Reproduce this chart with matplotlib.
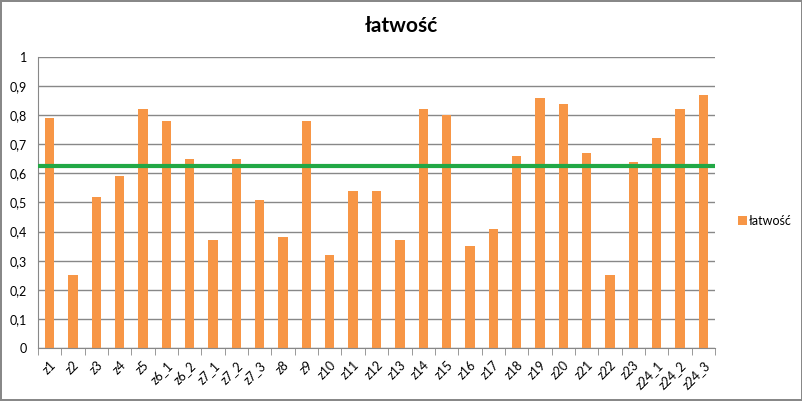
import numpy as np
import matplotlib
matplotlib.use('Agg')
import matplotlib.pyplot as plt

labels = ['z1', 'z2', 'z3', 'z4', 'z5', 'z6_1', 'z6_2', 'z7_1', 'z7_2', 'z7_3',
          'z8', 'z9', 'z10', 'z11', 'z12', 'z13', 'z14', 'z15', 'z16', 'z17',
          'z18', 'z19', 'z20', 'z21', 'z22', 'z23', 'z24_1', 'z24_2', 'z24_3']
latwosc = [0.79, 0.25, 0.52, 0.59, 0.82, 0.78, 0.65, 0.37, 0.65, 0.51,
           0.38, 0.78, 0.32, 0.54, 0.54, 0.37, 0.82, 0.80, 0.35, 0.41,
           0.66, 0.86, 0.84, 0.67, 0.25, 0.64, 0.72, 0.82, 0.87]
threshold = 0.625

plt.rcParams['font.family'] = ['Lato', 'DejaVu Sans']

fig = plt.figure(figsize=(8.03, 4.01), dpi=100)
fig.patch.set_edgecolor('#888888')
fig.patch.set_linewidth(1.5)
ax = fig.add_axes([0.0473, 0.1322, 0.8431, 0.7257])

x = np.arange(len(labels))
ax.bar(x, latwosc, width=0.4, color='#F79646', label='łatwość', zorder=2)
ax.axhline(threshold, color='#22A845', linewidth=3, zorder=3)

ax.set_xlim(-0.5, len(labels) - 0.5)
ax.set_ylim(0, 1)
ax.set_yticks(np.arange(0, 1.01, 0.1))
ax.set_yticklabels(['0'] + ['0,%d' % i for i in range(1, 10)] + ['1'], fontsize=9)
ax.yaxis.grid(True, color='#888888', linewidth=1, zorder=0)
ax.tick_params(axis='y', length=0, pad=8)

ax.set_xticks(x)
ax.set_xticklabels(labels, rotation=45, ha='right', rotation_mode='anchor', fontsize=9)
ax.set_xticks(np.arange(-0.5, len(labels), 1), minor=True)
ax.tick_params(axis='x', which='major', length=0, pad=8)
ax.tick_params(axis='x', which='minor', length=5, color='#888888')

for s in ['top', 'right']:
    ax.spines[s].set_visible(False)
for s in ['left', 'bottom']:
    ax.spines[s].set_color('#888888')

fig.suptitle('łatwość', x=0.5, y=0.96, fontsize=15, fontweight='bold')
fig.legend(loc='center left', bbox_to_anchor=(0.905, 0.45), frameon=False,
           fontsize=9, handlelength=0.7, handleheight=0.7, handletextpad=0.2)

fig.savefig('out.png', dpi=100, edgecolor=fig.get_edgecolor())
